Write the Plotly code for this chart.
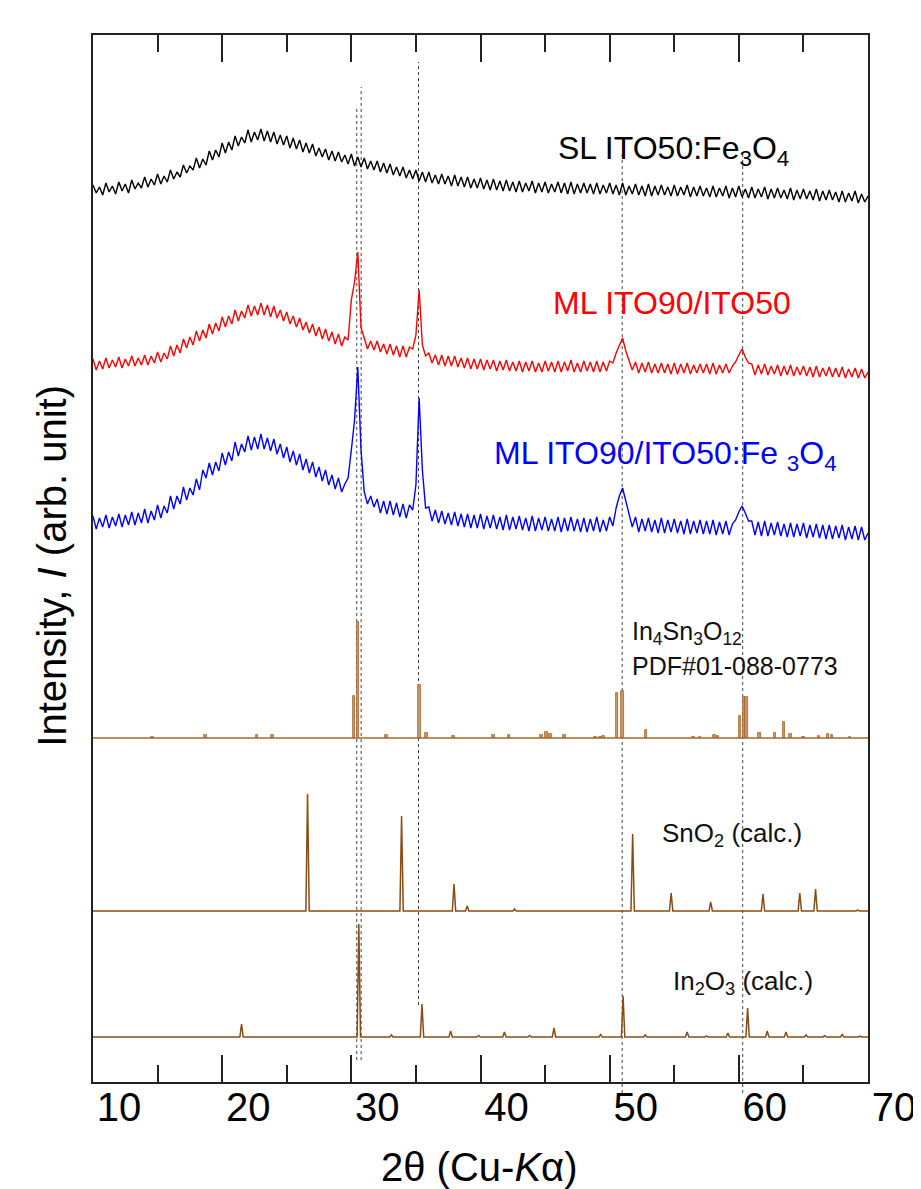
import plotly.graph_objects as go

# ---------------- data ----------------
# measurement grid, 2theta in degrees
two_theta = [round(10 + 0.25 * i, 2) for i in range(241)]

# displayed (stacked) intensities, arb. unit; one row per degree (x.00, x.25, x.50, x.75)
sl_ito50_fe3o4 = [
    897, 889, 895, 887,  899, 890, 896, 888,  900, 891, 898, 889,  902, 893, 899, 894,
    905, 895, 903, 897,  908, 898, 906, 900,  912, 903, 910, 905,  917, 909, 916, 912,
    924, 914, 923, 917,  931, 922, 932, 925,  939, 929, 940, 932,  946, 936, 945, 939,
    952, 940, 950, 942,  953, 941, 951, 940,  950, 938, 947, 937,  946, 934, 944, 933,
    942, 930, 939, 929,  938, 926, 934, 925,  933, 922, 931, 921,  930, 920, 927, 918,
    928, 916, 925, 915,  924, 913, 921, 912,  921, 910, 919, 909,  918, 907, 915, 906,
    915, 904, 912, 903,  912, 901, 910, 900,  910, 899, 907, 898,  908, 898, 906, 896,
    907, 896, 905, 895,  905, 894, 903, 894,  904, 893, 902, 892,  903, 892, 901, 891,
    902, 891, 900, 890,  901, 890, 899, 891,  901, 889, 899, 890,  900, 889, 898, 890,
    900, 889, 899, 888,  900, 888, 898, 889,  899, 889, 898, 888,  899, 888, 897, 889,
    899, 888, 897, 887,  899, 887, 896, 888,  898, 887, 896, 886,  898, 886, 896, 887,
    897, 887, 895, 886,  897, 886, 895, 887,  897, 885, 895, 886,  896, 886, 894, 885,
    896, 885, 894, 886,  896, 884, 894, 885,  896, 885, 893, 884,  895, 884, 893, 885,
    895, 883, 893, 884,  894, 884, 892, 883,  894, 882, 892, 883,  893, 883, 891, 882,
    893, 881, 891, 882,  892, 882, 890, 880,  891, 880, 889, 881,  891, 879, 888, 880,
    886,
]

ml_ito90_ito50 = [
    723, 712, 721, 713,  724, 714, 722, 715,  725, 714, 723, 716,  726, 716, 724, 717,
    727, 717, 726, 719,  730, 720, 729, 723,  736, 726, 737, 729,  743, 734, 745, 737,
    751, 741, 752, 744,  758, 748, 759, 751,  765, 755, 766, 758,  772, 761, 771, 764,
    777, 766, 776, 767,  779, 767, 777, 765,  776, 764, 772, 761,  770, 758, 766, 755,
    764, 752, 760, 749,  758, 746, 755, 743,  753, 741, 750, 738,  748, 736, 745, 742,
    782, 800, 830, 754,  744, 733, 741, 732,  741, 730, 738, 728,  738, 727, 736, 725,
    736, 725, 735, 733,  747, 792, 737, 726,  729, 719, 727, 717,  727, 716, 726, 716,
    726, 715, 724, 714,  724, 713, 723, 713,  723, 712, 722, 713,  722, 711, 721, 712,
    722, 711, 720, 711,  721, 710, 720, 711,  721, 710, 719, 710,  721, 711, 720, 710,
    721, 710, 720, 711,  722, 710, 719, 710,  721, 711, 720, 710,  721, 710, 720, 711,
    721, 719, 729, 737,  744, 731, 722, 712,  720, 709, 719, 710,  720, 709, 718, 709,
    719, 709, 718, 708,  719, 708, 718, 709,  719, 708, 717, 709,  718, 709, 718, 708,
    719, 708, 717, 709,  718, 709, 716, 720,  727, 733, 725, 719,  718, 707, 717, 708,
    718, 707, 716, 708,  717, 706, 716, 707,  717, 706, 715, 707,  716, 706, 715, 705,
    716, 705, 714, 706,  715, 705, 714, 705,  715, 704, 713, 705,  714, 704, 713, 704,
    710,
]

ml_ito90_ito50_fe3o4 = [
    566, 553, 564, 555,  567, 554, 565, 556,  568, 555, 567, 557,  570, 557, 569, 559,
    573, 559, 571, 562,  577, 564, 576, 569,  586, 573, 586, 578,  595, 582, 594, 587,
    603, 592, 612, 604,  619, 607, 620, 611,  629, 617, 630, 621,  640, 626, 638, 630,
    646, 632, 645, 633,  648, 633, 644, 631,  643, 628, 638, 624,  635, 620, 631, 617,
    628, 612, 623, 609,  620, 605, 615, 601,  612, 597, 607, 593,  604, 590, 598, 604,
    632, 662, 715, 632,  590, 578, 586, 575,  583, 569, 581, 568,  581, 567, 579, 565,
    578, 564, 577, 572,  597, 684, 612, 574,  575, 561, 572, 559,  571, 558, 569, 557,
    570, 556, 568, 555,  568, 554, 567, 554,  568, 553, 566, 554,  567, 553, 565, 552,
    567, 552, 565, 553,  566, 552, 564, 551,  566, 551, 564, 552,  565, 551, 563, 551,
    565, 550, 564, 551,  565, 551, 563, 550,  564, 550, 563, 551,  565, 550, 562, 551,
    565, 556, 574, 586,  594, 581, 569, 555,  565, 550, 563, 551,  564, 550, 562, 549,
    564, 549, 562, 550,  563, 549, 561, 548,  563, 548, 561, 549,  562, 548, 561, 548,
    562, 547, 560, 548,  561, 547, 558, 562,  570, 576, 569, 561,  561, 547, 560, 546,
    561, 546, 559, 547,  560, 546, 558, 545,  559, 545, 558, 546,  559, 544, 557, 545,
    558, 544, 557, 543,  557, 543, 556, 544,  557, 542, 555, 543,  556, 542, 555, 542,
    549,
]

# In4Sn3O12 PDF#01-088-0773 reference sticks
pdf_base = 344
pdf_pos = [14.6, 18.7, 22.7, 23.9, 30.2, 30.5, 32.7, 35.27, 35.8, 37.9, 41.0, 42.2,
           44.7, 45.1, 45.4, 46.5, 48.9, 49.3, 49.5, 50.56, 50.98, 52.8, 56.5, 57.0,
           58.1, 58.4, 60.1, 60.4, 60.6, 61.6, 62.8, 63.5, 64.0, 65.0, 66.2, 66.9,
           67.2, 68.6]
pdf_int = [1, 3, 3.5, 3, 42, 116, 3, 53, 5, 2, 3, 3.5,
           3.5, 6, 4, 3.5, 1.5, 1.5, 2.5, 45, 47, 8, 1, 1,
           3, 2, 22, 41, 41, 5, 5, 16, 4, 1.5, 2, 4,
           3, 1]

# SnO2 (calc.)
sno2_base = 171
sno2_pos = [26.61, 33.89, 37.95, 38.97, 42.64, 51.78, 54.76, 57.82, 61.87, 64.72, 65.94, 69.2]
sno2_int = [117, 95, 27, 5, 2, 77, 18, 9, 17, 18, 22, 1]

# In2O3 (calc.)
in2o3_base = 45
in2o3_pos = [21.5, 30.58, 33.1, 35.47, 37.69, 39.85, 41.85, 43.8, 45.69, 49.3, 51.04,
             52.75, 56.0, 57.5, 59.15, 60.68, 62.2, 63.65, 65.2, 66.65, 68.0, 69.4]
in2o3_int = [13, 113, 2, 33, 6, 1.5, 5, 1.5, 9, 2.5, 41,
             2, 5, 1, 4, 29, 6, 5, 2, 1.5, 2.5, 1]

# dotted guide lines: position (deg), top and bottom (plot-height units)
guide_pos = [30.42, 30.76, 35.2, 50.97, 60.3]
guide_top = [974, 995, 1020, 929, 929]
guide_bottom = [22, 22, 77, -11, -11]

x_ticks = [10, 20, 30, 40, 50, 60, 70]
x_ticktext = ["10", "20", "30", "40", "50", "60", "70"]

# ---------------- figure ----------------
FONT = "Liberation Sans, Arial, Helvetica, sans-serif"
PLOT_H = 1047


def calc_profile(pos, inten, base, half=0.13):
    xs, ys = [10], [base]
    for p, h in sorted(zip(pos, inten)):
        xs += [p - half, p, p + half]
        ys += [base, base + h, base]
    xs.append(70)
    ys.append(base)
    return xs, ys


fig = go.Figure()

for g, t, b in zip(guide_pos, guide_top, guide_bottom):
    fig.add_shape(type="line", xref="x", yref="paper", x0=g, x1=g,
                  y0=b / PLOT_H, y1=t / PLOT_H,
                  line=dict(color="#444444", width=1, dash="dot"), layer="below")

fig.add_trace(go.Scatter(x=two_theta, y=sl_ito50_fe3o4, mode="lines",
                         line=dict(color="black", width=1.4), name="SL ITO50:Fe3O4"))
fig.add_trace(go.Scatter(x=two_theta, y=ml_ito90_ito50, mode="lines",
                         line=dict(color="#ff0000", width=1.4), name="ML ITO90/ITO50"))
fig.add_trace(go.Scatter(x=two_theta, y=ml_ito90_ito50_fe3o4, mode="lines",
                         line=dict(color="#0000ff", width=1.4), name="ML ITO90/ITO50:Fe3O4"))

# PDF sticks
fig.add_trace(go.Scatter(x=[10, 70], y=[pdf_base, pdf_base], mode="lines",
                         line=dict(color="#a5672e", width=1.5), hoverinfo="skip"))
fig.add_trace(go.Bar(x=pdf_pos, y=pdf_int, base=pdf_base, width=0.2,
                     marker=dict(color="#c99763", line=dict(color="#a5652a", width=0.8)),
                     name="In4Sn3O12"))

sx, sy = calc_profile(sno2_pos, sno2_int, sno2_base)
fig.add_trace(go.Scatter(x=sx, y=sy, mode="lines",
                         line=dict(color="#8b4c14", width=1.5), name="SnO2 (calc.)"))
ix, iy = calc_profile(in2o3_pos, in2o3_int, in2o3_base)
fig.add_trace(go.Scatter(x=ix, y=iy, mode="lines",
                         line=dict(color="#8b4c14", width=1.5), name="In2O3 (calc.)"))

labels = [
    ("SL ITO50:Fe<sub>3</sub>O<sub>4</sub>", 45.9, 932, "black", 32, "middle"),
    ("ML ITO90/ITO50", 45.5, 779, "#ff0000", 32, "middle"),
    ("ML ITO90/ITO50:Fe <sub>3</sub>O<sub>4</sub>", 41.0, 627, "#0000ff", 32, "middle"),
    ("In<sub>4</sub>Sn<sub>3</sub>O<sub>12</sub>", 51.62, 432, "#111111", 25, "bottom"),
    ("PDF#01-088-0773", 51.62, 431, "#111111", 25, "top"),
    ("SnO<sub>2</sub> (calc.)", 54.0, 248, "#111111", 26, "middle"),
    ("In<sub>2</sub>O<sub>3</sub> (calc.)", 54.85, 100, "#111111", 26, "middle"),
]
for txt, x, y, col, sz, ya in labels:
    fig.add_annotation(x=x, y=y, xref="x", yref="y", text=txt, showarrow=False,
                       xanchor="left", yanchor=ya, borderpad=0,
                       font=dict(family=FONT, size=sz, color=col))

fig.add_annotation(x=0.4988, y=-0.0812, xref="paper", yref="paper",
                   text="2θ (Cu-<i>K</i>α)", showarrow=False,
                   xanchor="center", yanchor="middle",
                   font=dict(family=FONT, size=40, color="black"))
fig.add_annotation(x=-0.0534, y=0.4928, xref="paper", yref="paper",
                   text="Intensity, <i>I</i> (arb. unit)", showarrow=False, textangle=-90,
                   xanchor="center", yanchor="middle",
                   font=dict(family=FONT, size=40, color="black"))

# the page body has an 8 px margin, so the figure is 8 px smaller and margins shifted
fig.update_layout(
    width=913, height=1181,
    margin=dict(l=85, r=53, t=27, b=107, autoexpand=False),
    paper_bgcolor="white", plot_bgcolor="white",
    showlegend=False,
    bargap=0,
    xaxis=dict(range=[10, 70], tickvals=x_ticks, ticktext=x_ticktext,
               ticks="inside", ticklen=27, tickwidth=2, tickcolor="#222222",
               minor=dict(dtick=5, tick0=10, ticks="inside", ticklen=17, tickwidth=2,
                          tickcolor="#222222"),
               showline=True, linecolor="#222222", linewidth=2, mirror="ticks",
               showgrid=False, zeroline=False, automargin=False,
               tickfont=dict(family=FONT, size=40, color="black"),
               ticklabelshift=26, ticklabelstandoff=-11),
    yaxis=dict(range=[0, PLOT_H], showticklabels=False, ticks="",
               showline=True, linecolor="#222222", linewidth=2, mirror=True,
               showgrid=False, zeroline=False, automargin=False),
)

fig.write_html("out.html")
